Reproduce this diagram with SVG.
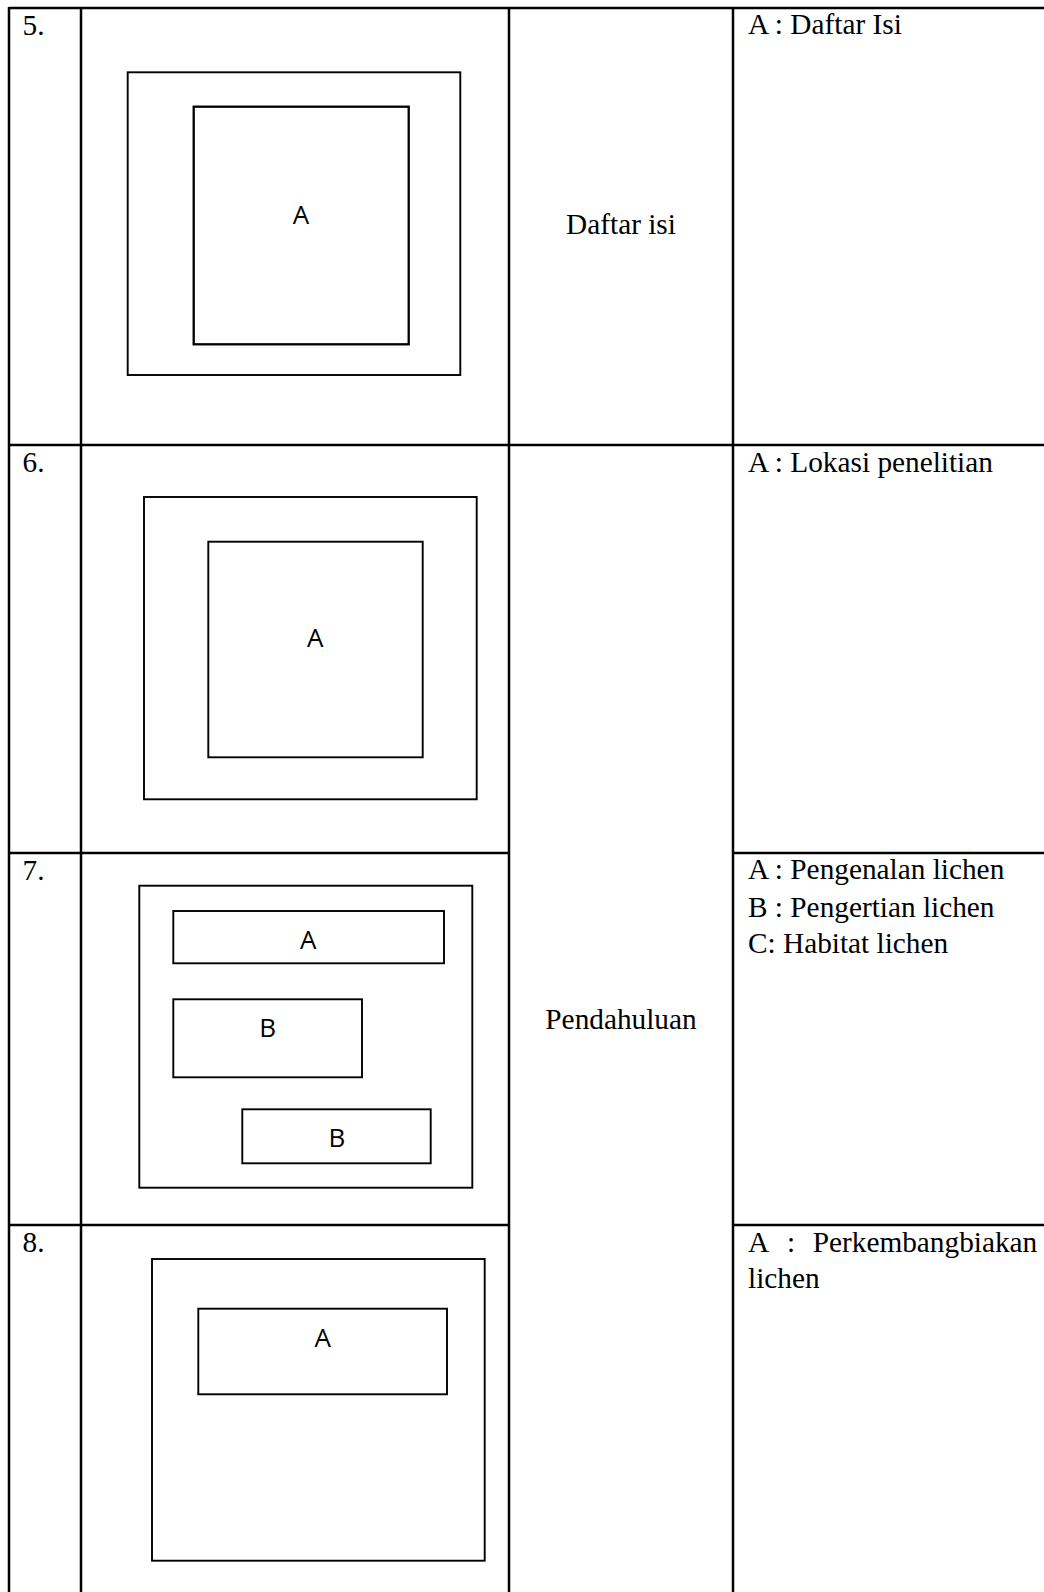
<svg xmlns="http://www.w3.org/2000/svg" width="1044" height="1592" viewBox="0 0 1044 1592">
<style>
.grid{stroke:#000;stroke-width:2.5;fill:none}
.box{stroke:#000;stroke-width:1.9;fill:none}
.box2{stroke:#000;stroke-width:2.3;fill:none}
.serif{font-family:"Liberation Serif","Times New Roman",serif;font-size:29.3px;fill:#000}
.sans{font-family:"Open Sans","Noto Sans",sans-serif;font-size:26px;fill:#000}
.mid{text-anchor:middle}
</style>
<rect width="1044" height="1592" fill="#fff"/>
<g id="table-lines">
<line class="grid" x1="9" y1="8" x2="1044" y2="8"/>
<line class="grid" x1="9" y1="7" x2="9" y2="1592"/>
<line class="grid" x1="81" y1="7" x2="81" y2="1592"/>
<line class="grid" x1="509" y1="7" x2="509" y2="1592"/>
<line class="grid" x1="733" y1="7" x2="733" y2="1592"/>
<line class="grid" x1="9" y1="445" x2="1044" y2="445"/>
<line class="grid" x1="9" y1="853" x2="509" y2="853"/>
<line class="grid" x1="733" y1="853" x2="1044" y2="853"/>
<line class="grid" x1="9" y1="1225" x2="509" y2="1225"/>
<line class="grid" x1="733" y1="1225" x2="1044" y2="1225"/>
</g>
<g id="row5">
<text class="serif" x="22.5" y="35">5.</text>
<rect class="box" x="127.7" y="72.3" width="332.6" height="302.7"/>
<rect class="box2" x="193.7" y="106.7" width="215" height="237.6"/>
<text class="sans mid" x="301" y="224">A</text>
<text class="serif mid" x="621" y="234.3">Daftar isi</text>
<text class="serif" x="748" y="34.3">A : Daftar Isi</text>
</g>
<g id="row6">
<text class="serif" x="22.5" y="471.7">6.</text>
<rect class="box" x="144" y="497" width="332.7" height="302.3"/>
<rect class="box" x="208.3" y="541.7" width="214.4" height="215.6"/>
<text class="sans mid" x="315.3" y="646.7">A</text>
<text class="serif" x="748" y="471.7">A : Lokasi penelitian</text>
</g>
<g id="row7">
<text class="serif" x="22.5" y="880">7.</text>
<rect class="box" x="139.3" y="885.7" width="333" height="302"/>
<rect class="box" x="173.3" y="911" width="270.7" height="52.3"/>
<text class="sans mid" x="308.3" y="949.3">A</text>
<rect class="box" x="173.3" y="999.3" width="188.7" height="78"/>
<text class="sans mid" x="267.7" y="1037.3">B</text>
<rect class="box" x="242.3" y="1109.3" width="188.4" height="54"/>
<text class="sans mid" x="337" y="1146.7">B</text>
<text class="serif mid" x="621" y="1029.3">Pendahuluan</text>
<text class="serif" x="748" y="879.3">A : Pengenalan lichen</text>
<text class="serif" x="748" y="916.7">B : Pengertian lichen</text>
<text class="serif" x="748" y="952.7">C: Habitat lichen</text>
</g>
<g id="row8">
<text class="serif" x="22.5" y="1251.7">8.</text>
<rect class="box" x="152" y="1259" width="332.7" height="301.7"/>
<rect class="box" x="198.3" y="1308.7" width="248.7" height="85.6"/>
<text class="sans mid" x="322.7" y="1346.7">A</text>
<text class="serif" y="1251.7"><tspan x="748">A</tspan><tspan x="787">:</tspan><tspan x="812.7">Perkembangbiakan</tspan></text>
<text class="serif" x="748" y="1288.3">lichen</text>
</g>
</svg>
